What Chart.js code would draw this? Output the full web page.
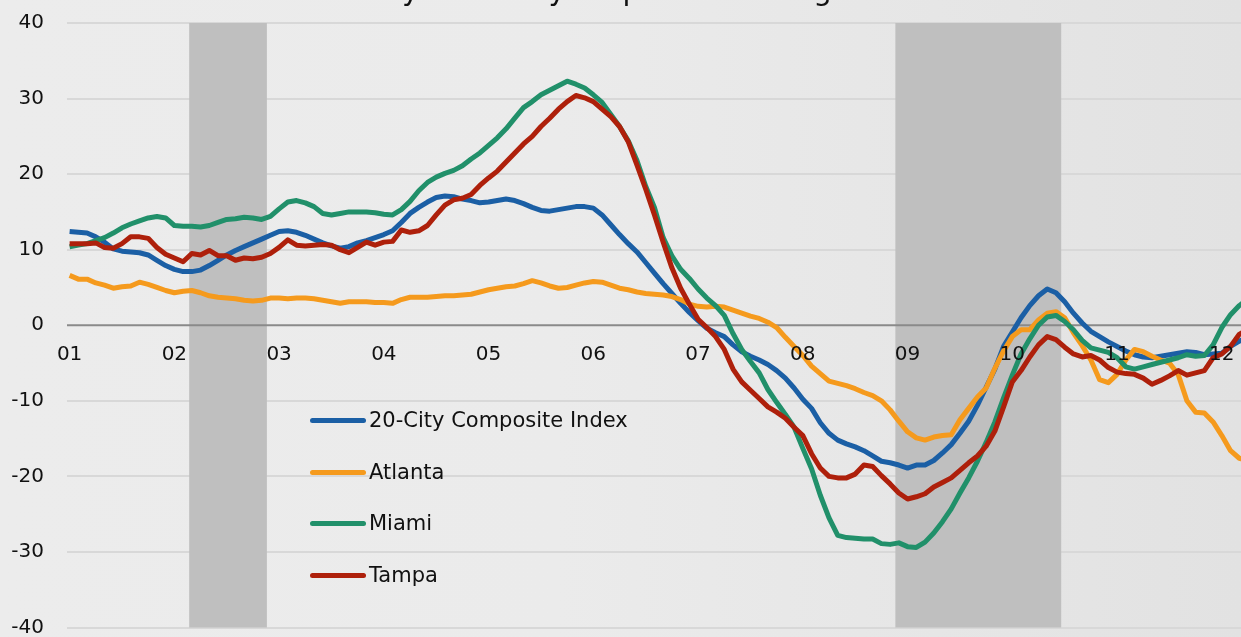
<!DOCTYPE html>
<html><head><meta charset="utf-8">
<script src="https://cdn.jsdelivr.net/npm/chart.js@4.4.1/dist/chart.umd.min.js"></script>
<style>
html,body{margin:0;padding:0;overflow:hidden;width:1241px;height:637px;}
body{background:linear-gradient(to right,#ececec 0%,#ebebeb 45%,#e2e2e2 100%);font-family:"DejaVu Sans",sans-serif;position:relative;}
#wrap{position:absolute;left:0;top:0;width:1248px;height:637px;}
#legend{position:absolute;left:310px;top:0;}
.item{position:absolute;left:0;display:flex;align-items:center;white-space:nowrap;font-size:21px;color:#111;height:30px;}
.swatch{width:56px;height:5px;border-radius:3px;margin-right:3px;flex:none;}
</style></head><body>
<div id="wrap"><canvas id="c"></canvas></div>
<div id="legend"></div>
<script>
// Monthly y-o-y % change, first value = label "01"
const seriesNames = ["20-City Composite Index","Atlanta","Miami","Tampa"];
const seriesColors = ["#1b5fa5","#f59a1d","#21906a","#ae200b"];
const tickLabels = ["01","02","03","04","05","06","07","08","09","10","11","12"];
const tickPositions = [0,12,24,36,48,60,72,84,96,108,120,132];
const recessionStart = [13.7, 94.6];
const recessionEnd = [22.6, 113.6];
const titleText = "year-over-year percent change";

const composite20 = [12.4,12.3,12.2,11.7,11.0,10.1,9.8,9.7,9.6,9.3,8.6,7.9,
7.4,7.1,7.1,7.3,7.9,8.6,9.3,9.9,10.4,10.9,11.4,11.9,
12.4,12.5,12.3,11.9,11.4,10.9,10.5,10.2,10.4,10.9,11.2,11.6,
12.0,12.5,13.6,14.8,15.6,16.3,16.9,17.1,17.0,16.7,16.5,16.2,
16.3,16.5,16.7,16.5,16.1,15.6,15.2,15.1,15.3,15.5,15.7,15.7,
15.5,14.6,13.3,12.0,10.8,9.7,8.3,6.9,5.5,4.2,2.9,1.7,
0.6,-0.4,-1.0,-1.5,-2.6,-3.5,-4.1,-4.6,-5.2,-6.0,-7.0,-8.3,
-9.8,-11.0,-12.9,-14.3,-15.2,-15.7,-16.1,-16.6,-17.3,-18.0,-18.2,-18.5,
-18.9,-18.5,-18.5,-17.9,-16.9,-15.8,-14.3,-12.7,-10.6,-8.2,-5.8,-2.8,
-0.9,1.0,2.6,3.9,4.8,4.3,3.1,1.6,0.3,-0.8,-1.5,-2.2,
-2.8,-3.4,-3.9,-4.2,-4.3,-4.1,-3.9,-3.7,-3.5,-3.6,-3.9,-3.8,
-3.7,-2.8,-2.1,-1.6];
const atlanta = [6.6,6.1,6.1,5.6,5.3,4.9,5.1,5.2,5.7,5.4,5.0,4.6,
4.3,4.5,4.6,4.3,3.9,3.7,3.6,3.5,3.3,3.2,3.3,3.6,
3.6,3.5,3.6,3.6,3.5,3.3,3.1,2.9,3.1,3.1,3.1,3.0,
3.0,2.9,3.4,3.7,3.7,3.7,3.8,3.9,3.9,4.0,4.1,4.4,
4.7,4.9,5.1,5.2,5.5,5.9,5.6,5.2,4.9,5.0,5.3,5.6,
5.8,5.7,5.3,4.9,4.7,4.4,4.2,4.1,4.0,3.8,3.4,2.8,
2.5,2.4,2.5,2.4,2.0,1.6,1.2,0.9,0.4,-0.3,-1.6,-2.8,
-4.0,-5.4,-6.4,-7.4,-7.7,-8.0,-8.4,-8.9,-9.3,-10.0,-11.2,-12.7,
-14.1,-14.9,-15.2,-14.8,-14.6,-14.5,-12.5,-11.0,-9.5,-8.3,-5.7,-3.4,
-1.5,-0.6,-0.6,0.7,1.6,1.8,1.0,-1.0,-2.7,-4.6,-7.2,-7.6,
-6.5,-4.6,-3.2,-3.5,-4.1,-4.6,-5.0,-6.5,-10.0,-11.5,-11.6,-12.8,
-14.6,-16.6,-17.6,-17.9];
const miami = [10.4,10.6,10.8,11.2,11.6,12.2,12.9,13.4,13.8,14.2,14.4,14.2,
13.2,13.1,13.1,13.0,13.2,13.6,14.0,14.1,14.3,14.2,14.0,14.4,
15.4,16.3,16.5,16.2,15.7,14.8,14.6,14.8,15.0,15.0,15.0,14.9,
14.7,14.6,15.3,16.4,17.8,18.9,19.6,20.1,20.5,21.1,22.0,22.8,
23.8,24.8,26.0,27.4,28.8,29.6,30.5,31.1,31.7,32.3,31.9,31.4,
30.5,29.5,27.9,26.3,24.4,21.8,18.4,15.6,11.6,9.2,7.4,6.2,
4.8,3.6,2.6,1.3,-1.1,-3.2,-4.8,-6.3,-8.5,-10.2,-11.8,-13.5,
-16.3,-19.0,-22.5,-25.5,-27.8,-28.1,-28.2,-28.3,-28.3,-28.9,-29.0,-28.8,
-29.3,-29.4,-28.7,-27.5,-26.0,-24.3,-22.2,-20.2,-18.0,-15.5,-12.8,-9.6,
-6.6,-3.8,-1.8,0.0,1.1,1.3,0.5,-0.6,-2.0,-3.0,-3.3,-3.6,
-4.3,-5.5,-5.8,-5.5,-5.2,-4.9,-4.6,-4.3,-3.9,-4.1,-4.0,-2.6,
-0.3,1.4,2.6,3.5];
const tampa = [10.8,10.8,10.8,10.9,10.3,10.2,10.8,11.7,11.7,11.5,10.3,9.4,
8.9,8.4,9.5,9.3,9.9,9.2,9.2,8.6,8.9,8.8,9.0,9.5,
10.3,11.3,10.6,10.5,10.6,10.7,10.6,10.0,9.6,10.3,11.0,10.6,
11.0,11.1,12.6,12.3,12.5,13.2,14.6,15.9,16.6,16.8,17.3,18.5,
19.5,20.4,21.6,22.8,24.0,25.0,26.3,27.4,28.6,29.6,30.4,30.1,
29.6,28.6,27.6,26.3,24.3,21.2,18.0,14.6,11.0,7.6,4.9,2.8,
0.8,-0.3,-1.5,-3.2,-5.8,-7.5,-8.6,-9.7,-10.8,-11.5,-12.3,-13.5,
-14.6,-17.0,-18.9,-20.0,-20.2,-20.2,-19.7,-18.5,-18.7,-19.9,-21.0,-22.2,
-23.0,-22.7,-22.3,-21.4,-20.8,-20.2,-19.2,-18.2,-17.3,-16.0,-14.0,-10.8,
-7.5,-6.0,-4.2,-2.6,-1.5,-1.9,-2.9,-3.8,-4.2,-4.0,-4.6,-5.6,
-6.2,-6.4,-6.5,-7.0,-7.8,-7.3,-6.7,-6.0,-6.6,-6.3,-6.0,-4.3,
-3.8,-2.8,-1.2,-0.5];

const allSeries = [composite20, atlanta, miami, tampa];
const drawOrder = [4,3,2,1];

const datasets = allSeries.map((vals, k) => ({
  label: seriesNames[k],
  data: vals.map((v, i) => ({x: i, y: v})),
  borderColor: seriesColors[k],
  backgroundColor: seriesColors[k],
  borderWidth: 5,
  pointRadius: 0,
  tension: 0,
  borderJoinStyle: 'round',
  order: drawOrder[k]
}));

const shadePlugin = {
  id: 'shade',
  beforeDatasetsDraw(chart) {
    const {ctx, chartArea: a, scales: {x, y}} = chart;
    ctx.save();
    ctx.fillStyle = '#bfbfbf';
    recessionStart.forEach((s, i) => {
      const x0 = x.getPixelForValue(s), x1 = x.getPixelForValue(recessionEnd[i]);
      ctx.fillRect(x0, a.top, x1 - x0, a.bottom - a.top);
    });
    const y0 = y.getPixelForValue(0);
    ctx.strokeStyle = '#8a8a8a';
    ctx.lineWidth = 2;
    ctx.beginPath(); ctx.moveTo(a.left, y0); ctx.lineTo(a.right, y0); ctx.stroke();
    ctx.restore();
  },
  afterDraw(chart) {
    const ctx = chart.ctx;
    ctx.save();
    ctx.font = '29px "DejaVu Sans"';
    ctx.fillStyle = '#111';
    ctx.textAlign = 'left';
    ctx.textBaseline = 'alphabetic';
    ctx.fillText(titleText, 402, 0);
    ctx.restore();
  }
};

const chart = new Chart(document.getElementById('c'), {
  type: 'line',
  data: {datasets},
  plugins: [shadePlugin],
  options: {
    responsive: true,
    maintainAspectRatio: false,
    animation: false,
    devicePixelRatio: 1,
    layout: {padding: {left: 0, right: 0, top: 23, bottom: 9.5}},
    plugins: {legend: {display: false}, tooltip: {enabled: false}, title: {display: false}},
    scales: {
      x: {
        type: 'linear',
        position: {y: 0},
        min: -0.3,
        max: 135,
        afterBuildTicks: (s) => { s.ticks = tickPositions.map(v => ({value: v})); },
        afterFit: (s) => { s.height = 0; s.paddingLeft = 0; s.paddingRight = 0; s.paddingTop = 0; s.paddingBottom = 0; },
        ticks: {
          z: 1,
          autoSkip: false,
          maxRotation: 0,
          padding: 18,
          color: '#111',
          font: {family: 'DejaVu Sans', size: 20},
          callback: (v) => tickLabels[tickPositions.indexOf(v)]
        },
        grid: {display: false, drawTicks: false},
        border: {display: false}
      },
      y: {
        min: -40, max: 40,
        afterFit: (s) => { s.width = 67; s.paddingTop = 0; s.paddingBottom = 0; },
        ticks: {
          stepSize: 10,
          padding: 23,
          color: '#111',
          font: {family: 'DejaVu Sans', size: 20, lineHeight: 1}
        },
        grid: {
          drawTicks: false,
          color: (c) => (c.tick && c.tick.value === 0) ? 'rgba(0,0,0,0)' : '#d8d8d8',
          lineWidth: 2
        },
        border: {display: false}
      }
    }
  }
});

// legend (built from the series names/colours)
const leg = document.getElementById('legend');
const legendRowCenters = [420, 472, 523, 575];
seriesNames.forEach((n, k) => {
  const d = document.createElement('div');
  d.className = 'item';
  d.style.top = (legendRowCenters[k] - 15) + 'px';
  d.innerHTML = '<span class="swatch" style="background:' + seriesColors[k] + '"></span><span>' + n + '</span>';
  leg.appendChild(d);
});
</script></body></html>
